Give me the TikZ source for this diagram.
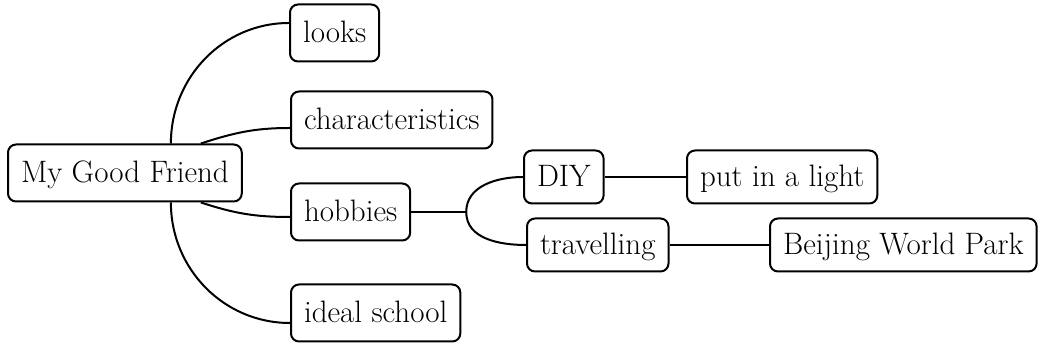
\documentclass[tikz,border=0pt]{standalone}
\usepackage{tikz}
\usetikzlibrary{positioning,calc}

\begin{document}
\begin{tikzpicture}[
    x=0.5pt, y=-0.5pt,
    topic/.style={rectangle, draw=black, line width=1pt, rounded corners=4pt, fill=white, anchor=west, font=\fontsize{15.5}{18}\selectfont, text height=12.5pt, text depth=3pt, inner xsep=6.5pt, inner ysep=6.5pt},
    leaf/.style={topic, inner ysep=5.5pt},
    link/.style={draw=black, line width=1pt},
]
\useasboundingbox (0,0) rectangle (1050,346);

\node[topic] (friend)  at (7,173)   {My Good Friend};
\node[topic] (looks)   at (289,33)  {looks};
\node[topic] (traits)  at (290,120) {characteristics};
\node[topic] (hobbies) at (290,212) {hobbies};
\node[topic] (school)  at (290,313) {ideal school};
\node[leaf]  (diy)     at (523,177) {DIY};
\node[leaf]  (light)   at (686,177) {put in a light};
\node[leaf]  (travel)  at (526,245) {travelling};
\node[leaf]  (park)    at (769,245) {Beijing World Park};

% Outer branches: one round bow through the main box.
\draw[link] ([xshift=23pt]friend.north) to[out=90,in=180] ([yshift=5pt]looks.west);
\draw[link] ([xshift=23pt]friend.south) to[out=-90,in=180] ([yshift=-5pt]school.west);
% Inner branches leave the box further right.
\draw[link] ([xshift=38pt]friend.north) to[out=18,in=180] ([yshift=-4pt]traits.west);
\draw[link] ([xshift=38pt]friend.south) to[out=-18,in=180] ([yshift=-2.5pt]hobbies.west);

% Hobbies split in two.
\draw[link] (hobbies.east) -- ++(27.5pt,0) coordinate (split);
\draw[link] (split) to[out=90,in=180] (diy.west);
\draw[link] (split) to[out=-90,in=180] (travel.west);
\draw[link] (diy.east) -- (light.west);
\draw[link] (travel.east) -- (park.west);
\end{tikzpicture}
\end{document}
